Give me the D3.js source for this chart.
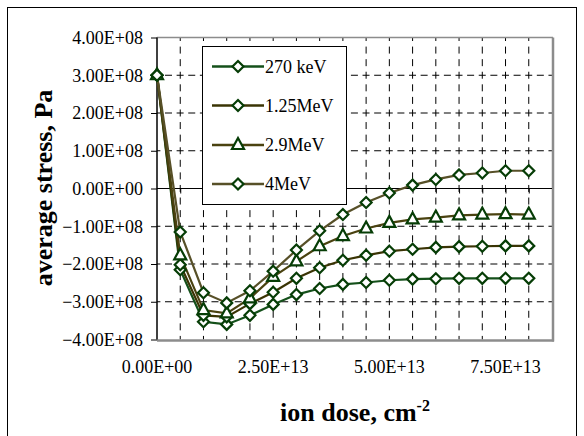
<!DOCTYPE html>
<html><head><meta charset="utf-8">
<script src="https://cdn.jsdelivr.net/npm/d3@7"></script>
<style>body{margin:0;background:#fff}svg{display:block}</style>
</head><body>
<svg id="c" width="584" height="436"></svg>
<script>
const doses = [0,5e12,1e13,1.5e13,2e13,2.5e13,3e13,3.5e13,4e13,4.5e13,5e13,5.5e13,6e13,6.5e13,7e13,7.5e13,8e13];
const s270keV = [3.0e8,-2.15e8,-3.53e8,-3.60e8,-3.36e8,-3.07e8,-2.81e8,-2.65e8,-2.54e8,-2.49e8,-2.43e8,-2.40e8,-2.39e8,-2.38e8,-2.38e8,-2.38e8,-2.38e8];
const s125MeV = [3.0e8,-2.02e8,-3.36e8,-3.40e8,-3.05e8,-2.75e8,-2.38e8,-2.10e8,-1.90e8,-1.77e8,-1.66e8,-1.61e8,-1.56e8,-1.54e8,-1.53e8,-1.52e8,-1.52e8];
const s29MeV = [3.0e8,-1.77e8,-3.22e8,-3.31e8,-2.91e8,-2.34e8,-1.93e8,-1.53e8,-1.26e8,-1.06e8,-0.91e8,-0.82e8,-0.77e8,-0.71e8,-0.69e8,-0.68e8,-0.69e8];
const s4MeV = [3.0e8,-1.15e8,-2.76e8,-3.03e8,-2.71e8,-2.19e8,-1.63e8,-1.12e8,-0.69e8,-0.37e8,-0.12e8,0.09e8,0.24e8,0.36e8,0.41e8,0.47e8,0.47e8];
const seriesNames = ["270 keV","1.25MeV","2.9MeV","4MeV"];
const xTicks = [0,2.5e13,5e13,7.5e13];
const yTicks = [4e8,3e8,2e8,1e8,0,-1e8,-2e8,-3e8,-4e8];
const xGrid = [5e12,1e13,1.5e13,2e13,2.5e13,3e13,3.5e13,4e13,4.5e13,5e13,5.5e13,6e13,6.5e13,7e13,7.5e13,8e13];

const series = [
  {name: seriesNames[0], values: s270keV, line: "#14501a", marker: "diamond"},
  {name: seriesNames[1], values: s125MeV, line: "#3a3404", marker: "diamond"},
  {name: seriesNames[2], values: s29MeV, line: "#4a4210", marker: "triangle"},
  {name: seriesNames[3], values: s4MeV, line: "#575028", marker: "diamond"}
];
const markerStroke = "#063d06";
const FONT = '"Liberation Serif"';

function sci(v){
  if (v === 0) return "0.00E+00";
  const s = d3.format(".2e")(v);
  const [m, e] = s.split("e");
  const sign = e[0] === "-" ? "-" : "+";
  const ex = e.replace(/^[+-]/, "").padStart(2, "0");
  return m + "E" + sign + ex;
}

const svg = d3.select("#c");
const L = 157, R = 552, T = 37.5, B = 339.5;
const x = d3.scaleLinear().domain([0, 8.5e13]).range([L, R]);
const y = d3.scaleLinear().domain([-4e8, 4e8]).range([B, T]);

// outer frame
svg.append("rect").attr("x",7.5).attr("y",7.5).attr("width",569).attr("height",440)
  .attr("fill","#fff").attr("stroke","#000").attr("stroke-width",1);

// horizontal gridlines
svg.append("g").selectAll("line").data(yTicks.filter(v => v !== 0 && Math.abs(v) < 4e8)).join("line")
  .attr("x1", L).attr("x2", R).attr("y1", d => y(d)).attr("y2", d => y(d))
  .attr("stroke","#000").attr("stroke-width",1).attr("stroke-dasharray","7,4.62").attr("stroke-dashoffset", -8);
// vertical gridlines
svg.append("g").selectAll("line").data(xGrid).join("line")
  .attr("x1", d => x(d)).attr("x2", d => x(d)).attr("y1", T).attr("y2", B)
  .attr("stroke","#000").attr("stroke-width",1).attr("stroke-dasharray","7,5.58").attr("stroke-dashoffset", 3.5);

// plot border (gray)
svg.append("line").attr("x1",L).attr("x2",R+1).attr("y1",T).attr("y2",T).attr("stroke","#8c8c8c").attr("stroke-width",1.5);
svg.append("line").attr("x1",R+1).attr("x2",R+1).attr("y1",T).attr("y2",B+2).attr("stroke","#8c8c8c").attr("stroke-width",2.5);
svg.append("line").attr("x1",L).attr("x2",R+2).attr("y1",B+1).attr("y2",B+1).attr("stroke","#8c8c8c").attr("stroke-width",2.5);

// zero axis with minor ticks
const xAxis = d3.axisBottom(x).tickValues(xGrid).tickSize(5).tickFormat("");
const gx = svg.append("g").attr("transform", `translate(0,${y(0)})`).call(xAxis);
gx.select(".domain").attr("stroke","#000").attr("stroke-width",1.2).attr("d", `M${L},0H${R}`);
gx.selectAll(".tick line").attr("stroke","#000");

// y axis
const yAxis = d3.axisLeft(y).tickValues(yTicks).tickSize(6).tickPadding(8).tickFormat(sci);
const gy = svg.append("g").attr("transform", `translate(${L},0)`).call(yAxis);
gy.select(".domain").attr("stroke","#000").attr("stroke-width",1.5).attr("d", `M0,${T}V${B}`);
gy.selectAll(".tick line").attr("stroke","#000");
gy.selectAll(".tick text").style("font-family", FONT).style("font-size", "18px").attr("fill","#000");

// x tick labels
svg.append("g").selectAll("text").data(xTicks).join("text")
  .attr("x", d => x(d)).attr("y", 373).attr("text-anchor","middle")
  .style("font-family", FONT).style("font-size", "18px").text(sci);

// series
const line = d3.line().x((d,i) => x(doses[i])).y(d => y(d));
const diamond = "M0,-5.5L5.5,0L0,5.5L-5.5,0Z";
const triangle = "M0,-7L6,4L-6,4Z";
series.forEach(s => {
  svg.append("path").datum(s.values).attr("d", line).attr("fill","none")
    .attr("stroke", s.line).attr("stroke-width", 2.2);
});
series.forEach(s => {
  svg.append("g").selectAll("path").data(s.values).join("path")
    .attr("transform", (d,i) => `translate(${x(doses[i])},${y(d)})`)
    .attr("d", s.marker === "triangle" ? triangle : diamond)
    .attr("fill","#fff").attr("stroke", markerStroke).attr("stroke-width", 2.2);
});

// legend
const lg = svg.append("g");
lg.append("rect").attr("x",202.5).attr("y",46.5).attr("width",144).attr("height",158)
  .attr("fill","#fff").attr("stroke","#000").attr("stroke-width",1);
const ly = [66.5, 105.5, 145, 184];
series.forEach((s, i) => {
  lg.append("line").attr("x1",212).attr("x2",264).attr("y1",ly[i]).attr("y2",ly[i])
    .attr("stroke", s.line).attr("stroke-width",2.5);
  lg.append("path").attr("transform", `translate(238,${ly[i]})`)
    .attr("d", s.marker === "triangle" ? triangle : diamond)
    .attr("fill","#fff").attr("stroke", markerStroke).attr("stroke-width",2.2);
  lg.append("text").attr("x",265).attr("y",ly[i]+6).style("font-family", FONT).style("font-size","18px").text(s.name);
});

// axis titles
svg.append("text").attr("transform","translate(52,188) rotate(-90)").attr("text-anchor","middle")
  .style("font-family", FONT).style("font-weight","bold").style("font-size","26px").text("average stress, Pa");
const xt = svg.append("text").attr("x",355).attr("y",421).attr("text-anchor","middle")
  .style("font-family", FONT).style("font-weight","bold").style("font-size","26px");
xt.append("tspan").text("ion dose, cm");
xt.append("tspan").attr("dy",-10).style("font-size","16px").text("-2");
</script>
</body></html>
